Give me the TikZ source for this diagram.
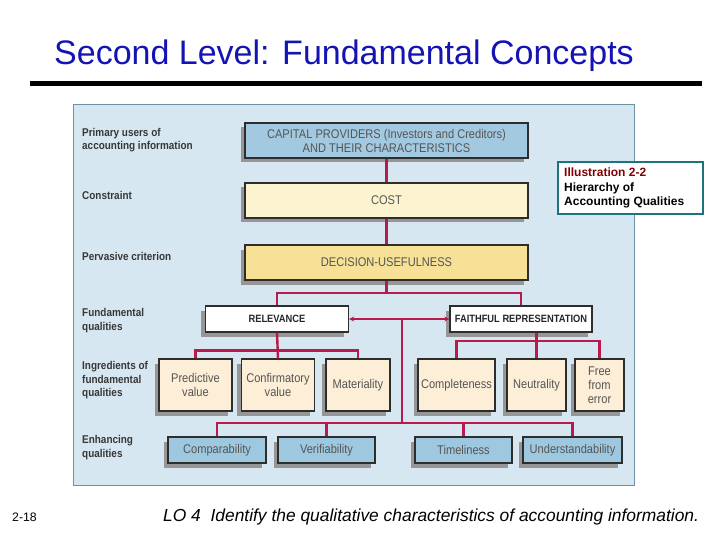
\documentclass[tikz,border=0pt]{standalone}
\usepackage{fontspec}
\setmainfont{Liberation Sans}
\newfontfamily\nar[FakeStretch=0.88]{Liberation Sans}
\usetikzlibrary{shadows,arrows.meta}
\definecolor{titleblue}{RGB}{20,20,180}
\definecolor{panelfill}{RGB}{215,231,241}
\definecolor{panelline}{RGB}{110,145,165}
\definecolor{boxline}{RGB}{45,45,45}
\definecolor{boxtext}{RGB}{85,85,85}
\definecolor{labeltext}{RGB}{55,55,55}
\definecolor{shadowgray}{RGB}{150,150,150}
\definecolor{crim}{RGB}{185,25,75}
\definecolor{capfill}{RGB}{163,201,224}
\definecolor{costfill}{RGB}{252,243,208}
\definecolor{decfill}{RGB}{246,225,150}
\definecolor{ingfill}{RGB}{252,238,215}
\definecolor{enhfill}{RGB}{158,200,224}
\definecolor{illusline}{RGB}{30,115,125}
\definecolor{illusred}{RGB}{128,0,0}
\begin{document}
\begin{tikzpicture}[x=1pt,y=-1pt,
  box/.style={draw=boxline, line width=1.1pt, inner sep=0pt, align=center,
    text=boxtext, font=\nar\fontsize{12.6}{14}\selectfont,
    drop shadow={shadow xshift=-4.5pt, shadow yshift=-4.5pt, fill=shadowgray, opacity=1}},
  wide/.style={box, minimum width=283pt, minimum height=35pt},
  fund/.style={box, fill=white, minimum height=26pt, text=black!85,
    font=\nar\bfseries\fontsize{10.6}{12}\selectfont},
  ing/.style={box, fill=ingfill, minimum height=52pt},
  enh/.style={box, fill=enhfill, minimum height=26pt},
  lab/.style={anchor=west, align=left, text=labeltext, inner sep=0pt,
    font=\nar\bfseries\fontsize{11.3}{13.5}\selectfont},
  conn/.style={draw=crim, line width=2.4pt}
]
\useasboundingbox (0,0) rectangle (720,540);
% title
\node[anchor=base, text=titleblue, font=\fontsize{34}{38}\selectfont, inner sep=0pt] (title) at (344,65) {Second Level: Fundamental Concepts};
\fill[black] (30,81.5) rectangle (702,86.5);
% panel
\node[draw=panelline, fill=panelfill, line width=0.8pt, minimum width=561pt, minimum height=381pt, inner sep=0pt] (panel) at (353.5,294.5) {};
% left labels
\node[lab] (l1) at (82,140) {Primary users of\\accounting information};
\node[lab] (l2) at (82,195) {Constraint};
\node[lab] (l3) at (82,256) {Pervasive criterion};
\node[lab] (l4) at (82,320.5) {Fundamental\\qualities};
\node[lab] (l5) at (82,380.5) {Ingredients of\\fundamental\\qualities};
\node[lab] (l6) at (82,447.5) {Enhancing\\qualities};
% top boxes
\node[wide, fill=capfill] (cap) at (386.5,140.5) {CAPITAL PROVIDERS (Investors and Creditors)\\AND THEIR CHARACTERISTICS};
\node[wide, fill=costfill] (cost) at (386.5,200.5) {COST};
\node[wide, fill=decfill] (dec) at (386.5,262.5) {DECISION-USEFULNESS};
% fundamental
\node[fund, minimum width=143pt] (rel) at (277,319) {RELEVANCE};
\node[fund, minimum width=142pt] (faith) at (521,319) {FAITHFUL REPRESENTATION};
% ingredients
\node[ing, minimum width=73pt] (pred) at (195.5,385) {Predictive\\value};
\node[ing, minimum width=73pt] (conf) at (278,385) {Confirmatory\\value};
\node[ing, minimum width=64pt] (mat) at (358,385) {Materiality};
\node[ing, minimum width=77pt] (comp) at (456.5,385) {Completeness};
\node[ing, minimum width=59pt] (neut) at (536.5,385) {Neutrality};
\node[ing, minimum width=49pt] (free) at (599.5,385) {Free\\from\\error};
% enhancing
\node[enh, minimum width=98pt] (compa) at (217,450) {Comparability};
\node[enh, minimum width=97pt] (veri) at (326.5,450) {Verifiability};
\node[enh, minimum width=97pt] (time) at (463.5,450) {Timeliness};
\node[enh, minimum width=99pt] (under) at (572.5,450) {Understandability};
% connectors
\coordinate (db) at (386.5,293);
\coordinate (mid) at (401.7,319);
\coordinate (eb) at (401.7,423);
\coordinate (rb) at (278,350.5);
\coordinate (fb) at (536.5,341);
\draw[conn] (cap) -- (cost);
\draw[conn] (cost) -- (dec);
\draw[conn] (dec.south) -- (db);
\draw[conn] (rel.north) |- (db) -| (faith.north);
\draw[conn, line width=1.8pt, {Stealth[length=5pt,width=5pt]}-{Stealth[length=5pt,width=5pt]}] (rel.east) -- (faith.west);
\draw[conn] (mid) -- (eb);
\draw[conn] (compa.north) |- (eb) -| (under.north);
\draw[conn] (veri.north) -- (veri.north |- eb);
\draw[conn] (time.north) -- (time.north |- eb);
\draw[conn] (rel.south) -- (conf.north);
\draw[conn] (pred.north) |- (rb) -| (mat.north);
\draw[conn] (neut.north) -- (neut.north |- faith.south);
\draw[conn] (comp.north) |- (fb) -| (free.north);
% illustration box
\node[draw=illusline, fill=white, line width=2.4pt, minimum width=145pt, minimum height=52pt, inner sep=0pt] (illus) at (630.5,188) {};
\node[anchor=north west, align=left, inner sep=0pt, font=\bfseries\fontsize{12}{14.5}\selectfont] (illtxt) at (564,168) {\textcolor{illusred}{Illustration 2-2}\\Hierarchy of\\Accounting Qualities};
% footer
\node[anchor=base west, inner sep=0pt, font=\fontsize{12.3}{13}\selectfont] (pg) at (12,521) {2-18};
\node[anchor=base west, inner sep=0pt, font=\itshape\fontsize{17.4}{20}\selectfont] (lo) at (163,521.5) {LO 4\ \ Identify the qualitative characteristics of accounting information.};
\end{tikzpicture}
\end{document}
